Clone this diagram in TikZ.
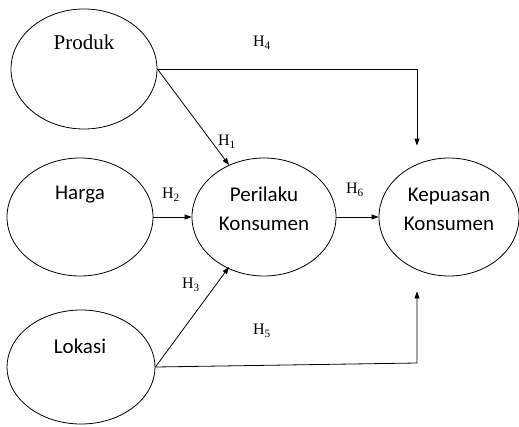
\documentclass[tikz,border=0pt]{standalone}
\usepackage{fontspec}
\setmainfont{Liberation Serif}
\newfontfamily\calib{Carlito}
\usetikzlibrary{shapes.geometric,arrows.meta}
\begin{document}
\begin{tikzpicture}[x=1pt,y=-1pt,
  oval/.style={draw,ellipse,line width=0.8pt,inner sep=0pt},
  conn/.style={line width=0.8pt,-{Triangle[length=7pt,width=5pt]}},
  sans/.style={font=\calib\fontsize{21}{29}\selectfont,align=center},
  serif/.style={font=\fontsize{21}{25}\selectfont},
  hyp/.style={font=\fontsize{16}{19}\selectfont,inner sep=1pt}]
\useasboundingbox (0,0) rectangle (519,426);
\node[oval,minimum width=146pt,minimum height=120pt] (produk) at (84,69) {};
\node[oval,minimum width=146pt,minimum height=118pt] (harga) at (80,217) {};
\node[oval,minimum width=148pt,minimum height=114pt] (lokasi) at (81,367) {};
\node[oval,minimum width=144pt,minimum height=118pt] (perilaku) at (264,217) {};
\node[oval,minimum width=140pt,minimum height=118pt] (kepuasan) at (449,217) {};
\node[serif] (tprod) at (84,42) {Produk};
\node[sans] (tharga) at (80,195) {Harga};
\node[sans] (tlok) at (80,346) {Lokasi};
\node[sans] (tper) at (264,209) {Perilaku\\Konsumen};
\node[sans] (tkep) at (449,209) {Kepuasan\\Konsumen};
\coordinate (c4) at (417,69);
\coordinate (c5) at (417,363);
\draw[conn,shorten >=12pt] (produk.east) -- (c4) -- (c4 |- kepuasan.north);
\draw[conn] (produk.east) -- (229,165);
\draw[conn] (harga.east) -- (perilaku.west);
\draw[conn] (lokasi.east) -- (229,267);
\draw[conn,shorten >=15pt] (lokasi.east) -- (c5) -- (c5 |- kepuasan.south);
\draw[conn] (perilaku.east) -- (kepuasan.west);
\node[hyp] (h4) at (262,43) {H\textsubscript{4}};
\node[hyp] (h1) at (227,142) {H\textsubscript{1}};
\node[hyp] (h2) at (171,195) {H\textsubscript{2}};
\node[hyp] (h3) at (191,285) {H\textsubscript{3}};
\node[hyp] (h5) at (262,331) {H\textsubscript{5}};
\node[hyp] (h6) at (355,190) {H\textsubscript{6}};
\end{tikzpicture}
\end{document}
